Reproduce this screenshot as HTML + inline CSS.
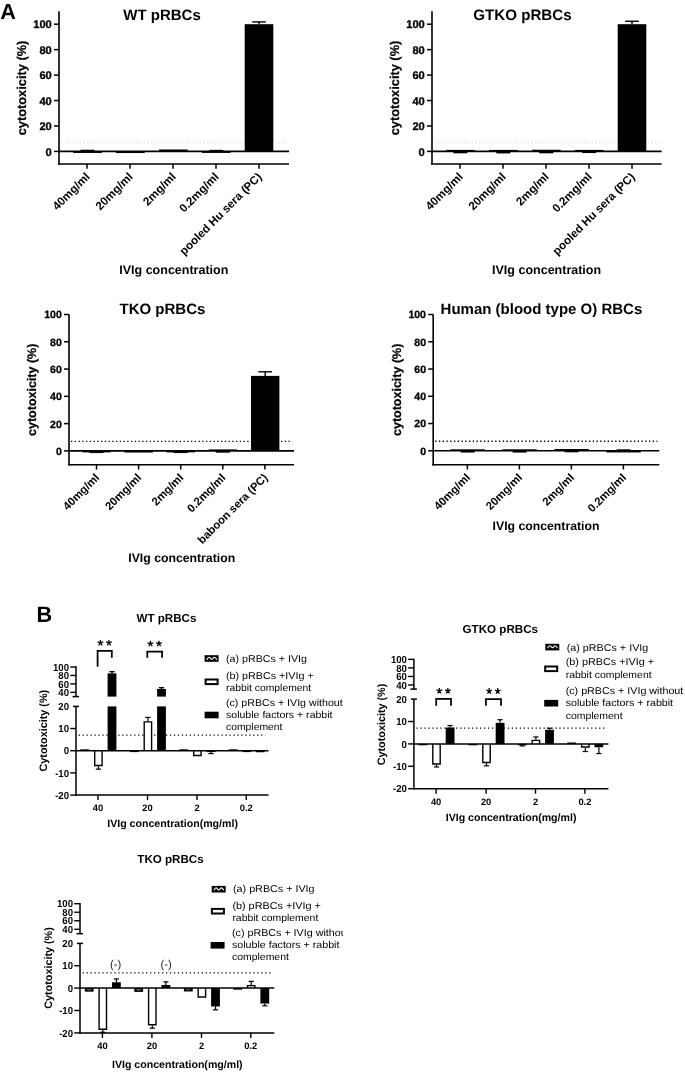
<!DOCTYPE html>
<html><head><meta charset="utf-8"><title>Figure</title>
<style>
html,body{margin:0;padding:0;background:#fff;}
svg{display:block;font-family:"Liberation Sans", sans-serif;opacity:0.999;will-change:transform;}
text{font-family:"Liberation Sans", sans-serif;text-rendering:geometricPrecision;}
</style></head><body>
<svg width="685" height="1072" viewBox="0 0 685 1072">
<rect x="0" y="0" width="685" height="1072" fill="#fff"/>
<defs><clipPath id="clipL"><rect x="0" y="830" width="343" height="242"/></clipPath></defs>

<text transform="translate(0.3 18.8) scale(1 1)" x="0" y="0" font-size="21.7" font-weight="bold" fill="#000">A</text>
<text transform="translate(36.4 621.9) scale(0.97 1)" x="0" y="0" font-size="22.3" font-weight="bold" fill="#000">B</text>
<line x1="61.00" y1="142.50" x2="287.00" y2="142.50" stroke="#dddddd" stroke-width="1.3" stroke-dasharray="1.3 2.45"/>
<rect x="73.20" y="151.40" width="28.60" height="1.53" fill="#000"/>
<rect x="80.50" y="149.75" width="14.00" height="1.65" fill="#000"/>
<rect x="116.00" y="151.40" width="28.60" height="1.65" fill="#000"/>
<rect x="159.00" y="149.49" width="28.60" height="1.91" fill="#000"/>
<rect x="202.00" y="151.40" width="28.60" height="1.50" fill="#000"/>
<rect x="209.30" y="149.87" width="14.00" height="1.53" fill="#000"/>
<rect x="244.70" y="24.20" width="28.60" height="127.20" fill="#000"/>
<line x1="259.00" y1="24.20" x2="259.00" y2="21.91" stroke="#000" stroke-width="1.4" />
<line x1="252.20" y1="21.91" x2="265.80" y2="21.91" stroke="#000" stroke-width="1.4" />
<line x1="59.00" y1="151.40" x2="289.00" y2="151.40" stroke="#000" stroke-width="1.6" />
<line x1="59.00" y1="11.20" x2="59.00" y2="164.80" stroke="#000" stroke-width="1.6" />
<line x1="58.20" y1="164.00" x2="289.00" y2="164.00" stroke="#000" stroke-width="1.6" />
<line x1="54.00" y1="151.40" x2="59.00" y2="151.40" stroke="#000" stroke-width="1.5" />
<text x="51.80" y="155.50" font-size="11.15" font-weight="bold" text-anchor="end" fill="#000" stroke="#000" stroke-width="0.3">0</text>
<line x1="54.00" y1="125.96" x2="59.00" y2="125.96" stroke="#000" stroke-width="1.5" />
<text x="51.80" y="130.06" font-size="11.15" font-weight="bold" text-anchor="end" fill="#000" stroke="#000" stroke-width="0.3">20</text>
<line x1="54.00" y1="100.52" x2="59.00" y2="100.52" stroke="#000" stroke-width="1.5" />
<text x="51.80" y="104.62" font-size="11.15" font-weight="bold" text-anchor="end" fill="#000" stroke="#000" stroke-width="0.3">40</text>
<line x1="54.00" y1="75.08" x2="59.00" y2="75.08" stroke="#000" stroke-width="1.5" />
<text x="51.80" y="79.18" font-size="11.15" font-weight="bold" text-anchor="end" fill="#000" stroke="#000" stroke-width="0.3">60</text>
<line x1="54.00" y1="49.64" x2="59.00" y2="49.64" stroke="#000" stroke-width="1.5" />
<text x="51.80" y="53.74" font-size="11.15" font-weight="bold" text-anchor="end" fill="#000" stroke="#000" stroke-width="0.3">80</text>
<line x1="54.00" y1="24.20" x2="59.00" y2="24.20" stroke="#000" stroke-width="1.5" />
<text x="51.80" y="28.30" font-size="11.15" font-weight="bold" text-anchor="end" fill="#000" stroke="#000" stroke-width="0.3">100</text>
<line x1="87.00" y1="164.00" x2="87.00" y2="168.80" stroke="#000" stroke-width="1.5" />
<text x="90.50" y="177.50" font-size="11.6" font-weight="bold" text-anchor="end" fill="#000" transform="rotate(-45 90.50 177.50)" >40mg/ml</text>
<line x1="130.00" y1="164.00" x2="130.00" y2="168.80" stroke="#000" stroke-width="1.5" />
<text x="133.50" y="177.50" font-size="11.6" font-weight="bold" text-anchor="end" fill="#000" transform="rotate(-45 133.50 177.50)" >20mg/ml</text>
<line x1="173.00" y1="164.00" x2="173.00" y2="168.80" stroke="#000" stroke-width="1.5" />
<text x="176.50" y="177.50" font-size="11.6" font-weight="bold" text-anchor="end" fill="#000" transform="rotate(-45 176.50 177.50)" >2mg/ml</text>
<line x1="216.00" y1="164.00" x2="216.00" y2="168.80" stroke="#000" stroke-width="1.5" />
<text x="219.50" y="177.50" font-size="11.6" font-weight="bold" text-anchor="end" fill="#000" transform="rotate(-45 219.50 177.50)" >0.2mg/ml</text>
<line x1="259.00" y1="164.00" x2="259.00" y2="168.80" stroke="#000" stroke-width="1.5" />
<text x="262.50" y="177.50" font-size="11.6" font-weight="bold" text-anchor="end" fill="#000" transform="rotate(-45 262.50 177.50)" >pooled Hu sera (PC)</text>
<text x="123.30" y="20.00" font-size="15.0" font-weight="bold" text-anchor="start" fill="#000" >WT pRBCs</text>
<text x="26.00" y="88.00" font-size="12.8" font-weight="bold" text-anchor="middle" fill="#000" transform="rotate(-90 26.00 88.00)" stroke="#000" stroke-width="0.2">cytotoxicity (%)</text>
<text x="173.80" y="274.30" font-size="12.5" font-weight="bold" text-anchor="middle" fill="#000" >IVIg concentration</text>
<line x1="434.00" y1="142.50" x2="659.60" y2="142.50" stroke="#dddddd" stroke-width="1.3" stroke-dasharray="1.3 2.45"/>
<rect x="446.10" y="149.90" width="28.60" height="1.50" fill="#000"/>
<rect x="453.40" y="151.40" width="14.00" height="1.91" fill="#000"/>
<rect x="489.00" y="149.90" width="28.60" height="1.50" fill="#000"/>
<rect x="496.30" y="151.40" width="14.00" height="2.04" fill="#000"/>
<rect x="532.00" y="149.75" width="28.60" height="1.65" fill="#000"/>
<rect x="539.30" y="151.40" width="14.00" height="1.91" fill="#000"/>
<rect x="574.90" y="149.90" width="28.60" height="1.50" fill="#000"/>
<rect x="582.20" y="151.40" width="14.00" height="1.65" fill="#000"/>
<rect x="617.70" y="24.20" width="28.60" height="127.20" fill="#000"/>
<line x1="632.00" y1="24.20" x2="632.00" y2="21.27" stroke="#000" stroke-width="1.4" />
<line x1="625.20" y1="21.27" x2="638.80" y2="21.27" stroke="#000" stroke-width="1.4" />
<line x1="432.00" y1="151.40" x2="661.60" y2="151.40" stroke="#000" stroke-width="1.6" />
<line x1="432.00" y1="11.20" x2="432.00" y2="164.80" stroke="#000" stroke-width="1.6" />
<line x1="431.20" y1="164.00" x2="661.60" y2="164.00" stroke="#000" stroke-width="1.6" />
<line x1="427.00" y1="151.40" x2="432.00" y2="151.40" stroke="#000" stroke-width="1.5" />
<text x="424.80" y="155.50" font-size="11.15" font-weight="bold" text-anchor="end" fill="#000" stroke="#000" stroke-width="0.3">0</text>
<line x1="427.00" y1="125.96" x2="432.00" y2="125.96" stroke="#000" stroke-width="1.5" />
<text x="424.80" y="130.06" font-size="11.15" font-weight="bold" text-anchor="end" fill="#000" stroke="#000" stroke-width="0.3">20</text>
<line x1="427.00" y1="100.52" x2="432.00" y2="100.52" stroke="#000" stroke-width="1.5" />
<text x="424.80" y="104.62" font-size="11.15" font-weight="bold" text-anchor="end" fill="#000" stroke="#000" stroke-width="0.3">40</text>
<line x1="427.00" y1="75.08" x2="432.00" y2="75.08" stroke="#000" stroke-width="1.5" />
<text x="424.80" y="79.18" font-size="11.15" font-weight="bold" text-anchor="end" fill="#000" stroke="#000" stroke-width="0.3">60</text>
<line x1="427.00" y1="49.64" x2="432.00" y2="49.64" stroke="#000" stroke-width="1.5" />
<text x="424.80" y="53.74" font-size="11.15" font-weight="bold" text-anchor="end" fill="#000" stroke="#000" stroke-width="0.3">80</text>
<line x1="427.00" y1="24.20" x2="432.00" y2="24.20" stroke="#000" stroke-width="1.5" />
<text x="424.80" y="28.30" font-size="11.15" font-weight="bold" text-anchor="end" fill="#000" stroke="#000" stroke-width="0.3">100</text>
<line x1="460.00" y1="164.00" x2="460.00" y2="168.80" stroke="#000" stroke-width="1.5" />
<text x="463.50" y="177.50" font-size="11.6" font-weight="bold" text-anchor="end" fill="#000" transform="rotate(-45 463.50 177.50)" >40mg/ml</text>
<line x1="503.00" y1="164.00" x2="503.00" y2="168.80" stroke="#000" stroke-width="1.5" />
<text x="506.50" y="177.50" font-size="11.6" font-weight="bold" text-anchor="end" fill="#000" transform="rotate(-45 506.50 177.50)" >20mg/ml</text>
<line x1="546.00" y1="164.00" x2="546.00" y2="168.80" stroke="#000" stroke-width="1.5" />
<text x="549.50" y="177.50" font-size="11.6" font-weight="bold" text-anchor="end" fill="#000" transform="rotate(-45 549.50 177.50)" >2mg/ml</text>
<line x1="589.00" y1="164.00" x2="589.00" y2="168.80" stroke="#000" stroke-width="1.5" />
<text x="592.50" y="177.50" font-size="11.6" font-weight="bold" text-anchor="end" fill="#000" transform="rotate(-45 592.50 177.50)" >0.2mg/ml</text>
<line x1="632.00" y1="164.00" x2="632.00" y2="168.80" stroke="#000" stroke-width="1.5" />
<text x="635.50" y="177.50" font-size="11.6" font-weight="bold" text-anchor="end" fill="#000" transform="rotate(-45 635.50 177.50)" >pooled Hu sera (PC)</text>
<text x="473.20" y="20.00" font-size="15.15" font-weight="bold" text-anchor="start" fill="#000" >GTKO pRBCs</text>
<text x="399.00" y="88.00" font-size="12.8" font-weight="bold" text-anchor="middle" fill="#000" transform="rotate(-90 399.00 88.00)" stroke="#000" stroke-width="0.2">cytotoxicity (%)</text>
<text x="546.60" y="274.30" font-size="12.5" font-weight="bold" text-anchor="middle" fill="#000" >IVIg concentration</text>
<line x1="71.00" y1="441.35" x2="292.00" y2="441.35" stroke="#000" stroke-width="1.3" stroke-dasharray="1.3 2.45"/>
<rect x="82.30" y="450.90" width="28.40" height="1.50" fill="#000"/>
<rect x="89.50" y="450.90" width="14.00" height="2.18" fill="#000"/>
<rect x="124.40" y="450.90" width="28.40" height="1.64" fill="#000"/>
<rect x="166.50" y="450.90" width="28.40" height="1.50" fill="#000"/>
<rect x="173.70" y="450.90" width="14.00" height="2.18" fill="#000"/>
<rect x="208.60" y="449.40" width="28.40" height="1.50" fill="#000"/>
<rect x="215.80" y="450.90" width="14.00" height="1.77" fill="#000"/>
<rect x="251.00" y="375.88" width="28.40" height="75.02" fill="#000"/>
<line x1="265.20" y1="375.88" x2="265.20" y2="371.79" stroke="#000" stroke-width="1.4" />
<line x1="258.40" y1="371.79" x2="272.00" y2="371.79" stroke="#000" stroke-width="1.4" />
<line x1="69.00" y1="450.90" x2="294.00" y2="450.90" stroke="#000" stroke-width="1.6" />
<line x1="69.00" y1="314.50" x2="69.00" y2="465.60" stroke="#000" stroke-width="1.6" />
<line x1="68.20" y1="464.80" x2="294.00" y2="464.80" stroke="#000" stroke-width="1.6" />
<line x1="64.00" y1="450.90" x2="69.00" y2="450.90" stroke="#000" stroke-width="1.5" />
<text x="61.80" y="454.79" font-size="10.55" font-weight="bold" text-anchor="end" fill="#000" stroke="#000" stroke-width="0.3">0</text>
<line x1="64.00" y1="423.62" x2="69.00" y2="423.62" stroke="#000" stroke-width="1.5" />
<text x="61.80" y="427.51" font-size="10.55" font-weight="bold" text-anchor="end" fill="#000" stroke="#000" stroke-width="0.3">20</text>
<line x1="64.00" y1="396.34" x2="69.00" y2="396.34" stroke="#000" stroke-width="1.5" />
<text x="61.80" y="400.23" font-size="10.55" font-weight="bold" text-anchor="end" fill="#000" stroke="#000" stroke-width="0.3">40</text>
<line x1="64.00" y1="369.06" x2="69.00" y2="369.06" stroke="#000" stroke-width="1.5" />
<text x="61.80" y="372.95" font-size="10.55" font-weight="bold" text-anchor="end" fill="#000" stroke="#000" stroke-width="0.3">60</text>
<line x1="64.00" y1="341.78" x2="69.00" y2="341.78" stroke="#000" stroke-width="1.5" />
<text x="61.80" y="345.67" font-size="10.55" font-weight="bold" text-anchor="end" fill="#000" stroke="#000" stroke-width="0.3">80</text>
<line x1="64.00" y1="314.50" x2="69.00" y2="314.50" stroke="#000" stroke-width="1.5" />
<text x="61.80" y="318.39" font-size="10.55" font-weight="bold" text-anchor="end" fill="#000" stroke="#000" stroke-width="0.3">100</text>
<line x1="96.50" y1="464.80" x2="96.50" y2="469.60" stroke="#000" stroke-width="1.5" />
<text x="100.00" y="478.30" font-size="11.3" font-weight="bold" text-anchor="end" fill="#000" transform="rotate(-45 100.00 478.30)" >40mg/ml</text>
<line x1="138.60" y1="464.80" x2="138.60" y2="469.60" stroke="#000" stroke-width="1.5" />
<text x="142.10" y="478.30" font-size="11.3" font-weight="bold" text-anchor="end" fill="#000" transform="rotate(-45 142.10 478.30)" >20mg/ml</text>
<line x1="180.70" y1="464.80" x2="180.70" y2="469.60" stroke="#000" stroke-width="1.5" />
<text x="184.20" y="478.30" font-size="11.3" font-weight="bold" text-anchor="end" fill="#000" transform="rotate(-45 184.20 478.30)" >2mg/ml</text>
<line x1="222.80" y1="464.80" x2="222.80" y2="469.60" stroke="#000" stroke-width="1.5" />
<text x="226.30" y="478.30" font-size="11.3" font-weight="bold" text-anchor="end" fill="#000" transform="rotate(-45 226.30 478.30)" >0.2mg/ml</text>
<line x1="264.90" y1="464.80" x2="264.90" y2="469.60" stroke="#000" stroke-width="1.5" />
<text x="268.40" y="478.30" font-size="11.3" font-weight="bold" text-anchor="end" fill="#000" transform="rotate(-45 268.40 478.30)" >baboon sera (PC)</text>
<text x="119.50" y="313.70" font-size="15.0" font-weight="bold" text-anchor="start" fill="#000" >TKO pRBCs</text>
<text x="36.00" y="389.80" font-size="12.5" font-weight="bold" text-anchor="middle" fill="#000" transform="rotate(-90 36.00 389.80)" stroke="#000" stroke-width="0.2">cytotoxicity (%)</text>
<text x="181.70" y="561.80" font-size="12.25" font-weight="bold" text-anchor="middle" fill="#000" >IVIg concentration</text>
<line x1="435.20" y1="441.26" x2="657.30" y2="441.26" stroke="#000" stroke-width="1.3" stroke-dasharray="1.3 2.45"/>
<rect x="450.40" y="449.30" width="34.40" height="1.50" fill="#000"/>
<rect x="460.60" y="450.80" width="14.00" height="1.77" fill="#000"/>
<rect x="502.40" y="449.30" width="34.40" height="1.50" fill="#000"/>
<rect x="512.60" y="450.80" width="14.00" height="1.77" fill="#000"/>
<rect x="554.40" y="449.03" width="34.40" height="1.77" fill="#000"/>
<rect x="564.60" y="450.80" width="14.00" height="1.50" fill="#000"/>
<rect x="606.40" y="450.80" width="34.40" height="1.64" fill="#000"/>
<rect x="616.60" y="449.30" width="14.00" height="1.50" fill="#000"/>
<line x1="433.20" y1="450.80" x2="659.30" y2="450.80" stroke="#000" stroke-width="1.6" />
<line x1="433.20" y1="314.50" x2="433.20" y2="465.50" stroke="#000" stroke-width="1.6" />
<line x1="432.40" y1="464.70" x2="659.30" y2="464.70" stroke="#000" stroke-width="1.6" />
<line x1="428.20" y1="450.80" x2="433.20" y2="450.80" stroke="#000" stroke-width="1.5" />
<text x="426.00" y="454.69" font-size="10.55" font-weight="bold" text-anchor="end" fill="#000" stroke="#000" stroke-width="0.3">0</text>
<line x1="428.20" y1="423.54" x2="433.20" y2="423.54" stroke="#000" stroke-width="1.5" />
<text x="426.00" y="427.43" font-size="10.55" font-weight="bold" text-anchor="end" fill="#000" stroke="#000" stroke-width="0.3">20</text>
<line x1="428.20" y1="396.28" x2="433.20" y2="396.28" stroke="#000" stroke-width="1.5" />
<text x="426.00" y="400.17" font-size="10.55" font-weight="bold" text-anchor="end" fill="#000" stroke="#000" stroke-width="0.3">40</text>
<line x1="428.20" y1="369.02" x2="433.20" y2="369.02" stroke="#000" stroke-width="1.5" />
<text x="426.00" y="372.91" font-size="10.55" font-weight="bold" text-anchor="end" fill="#000" stroke="#000" stroke-width="0.3">60</text>
<line x1="428.20" y1="341.76" x2="433.20" y2="341.76" stroke="#000" stroke-width="1.5" />
<text x="426.00" y="345.65" font-size="10.55" font-weight="bold" text-anchor="end" fill="#000" stroke="#000" stroke-width="0.3">80</text>
<line x1="428.20" y1="314.50" x2="433.20" y2="314.50" stroke="#000" stroke-width="1.5" />
<text x="426.00" y="318.39" font-size="10.55" font-weight="bold" text-anchor="end" fill="#000" stroke="#000" stroke-width="0.3">100</text>
<line x1="467.40" y1="464.70" x2="467.40" y2="469.50" stroke="#000" stroke-width="1.5" />
<text x="470.90" y="478.20" font-size="11.3" font-weight="bold" text-anchor="end" fill="#000" transform="rotate(-45 470.90 478.20)" >40mg/ml</text>
<line x1="519.40" y1="464.70" x2="519.40" y2="469.50" stroke="#000" stroke-width="1.5" />
<text x="522.90" y="478.20" font-size="11.3" font-weight="bold" text-anchor="end" fill="#000" transform="rotate(-45 522.90 478.20)" >20mg/ml</text>
<line x1="571.40" y1="464.70" x2="571.40" y2="469.50" stroke="#000" stroke-width="1.5" />
<text x="574.90" y="478.20" font-size="11.3" font-weight="bold" text-anchor="end" fill="#000" transform="rotate(-45 574.90 478.20)" >2mg/ml</text>
<line x1="623.40" y1="464.70" x2="623.40" y2="469.50" stroke="#000" stroke-width="1.5" />
<text x="626.90" y="478.20" font-size="11.3" font-weight="bold" text-anchor="end" fill="#000" transform="rotate(-45 626.90 478.20)" >0.2mg/ml</text>
<text x="440.60" y="313.70" font-size="15.0" font-weight="bold" text-anchor="start" fill="#000" >Human (blood type O) RBCs</text>
<text x="401.00" y="389.80" font-size="12.5" font-weight="bold" text-anchor="middle" fill="#000" transform="rotate(-90 401.00 389.80)" stroke="#000" stroke-width="0.2">cytotoxicity (%)</text>
<text x="546.00" y="530.30" font-size="12.25" font-weight="bold" text-anchor="middle" fill="#000" >IVIg concentration</text>
<line x1="78.60" y1="735.16" x2="265.50" y2="735.16" stroke="#000" stroke-width="1.25" stroke-dasharray="1.25 2.72"/>
<rect x="80.40" y="749.30" width="8.80" height="1.40" fill="#000"/>
<path d="M94.70 750.70 V765.54 H102.10 V750.70" fill="#fff" stroke="#000" stroke-width="1.4"/>
<line x1="98.40" y1="766.24" x2="98.40" y2="769.13" stroke="#000" stroke-width="1.2" />
<line x1="95.80" y1="769.13" x2="101.00" y2="769.13" stroke="#000" stroke-width="1.2" />
<rect x="107.60" y="706.40" width="8.80" height="44.30" fill="#000"/>
<rect x="107.60" y="673.34" width="8.80" height="23.26" fill="#000"/>
<line x1="112.00" y1="673.34" x2="112.00" y2="671.65" stroke="#000" stroke-width="1.3" />
<line x1="109.40" y1="671.65" x2="114.60" y2="671.65" stroke="#000" stroke-width="1.3" />
<rect x="129.90" y="750.70" width="8.80" height="1.40" fill="#000"/>
<path d="M144.20 750.70 V721.87 H151.60 V750.70" fill="#fff" stroke="#000" stroke-width="1.4"/>
<line x1="147.90" y1="721.17" x2="147.90" y2="717.40" stroke="#000" stroke-width="1.2" />
<line x1="145.30" y1="717.40" x2="150.50" y2="717.40" stroke="#000" stroke-width="1.2" />
<rect x="157.10" y="706.40" width="8.80" height="44.30" fill="#000"/>
<rect x="157.10" y="688.97" width="8.80" height="7.63" fill="#000"/>
<line x1="161.50" y1="688.97" x2="161.50" y2="687.70" stroke="#000" stroke-width="1.3" />
<line x1="158.90" y1="687.70" x2="164.10" y2="687.70" stroke="#000" stroke-width="1.3" />
<rect x="179.40" y="749.30" width="8.80" height="1.40" fill="#000"/>
<path d="M193.70 750.70 V755.55 H201.10 V750.70" fill="#fff" stroke="#000" stroke-width="1.4"/>
<rect x="206.60" y="750.70" width="8.80" height="1.40" fill="#000"/>
<line x1="211.00" y1="751.37" x2="211.00" y2="753.59" stroke="#000" stroke-width="1.2" />
<line x1="208.40" y1="753.59" x2="213.60" y2="753.59" stroke="#000" stroke-width="1.2" />
<rect x="228.70" y="749.30" width="8.80" height="1.40" fill="#000"/>
<rect x="242.30" y="750.70" width="8.80" height="1.40" fill="#000"/>
<rect x="255.90" y="750.70" width="8.80" height="1.55" fill="#000"/>
<line x1="76.00" y1="750.70" x2="268.50" y2="750.70" stroke="#000" stroke-width="1.5" />
<line x1="76.00" y1="666.30" x2="76.00" y2="696.60" stroke="#000" stroke-width="1.5" />
<line x1="72.50" y1="696.60" x2="79.00" y2="696.60" stroke="#000" stroke-width="1.5" />
<line x1="76.00" y1="706.40" x2="76.00" y2="795.75" stroke="#000" stroke-width="1.5" />
<line x1="73.00" y1="706.40" x2="79.00" y2="706.40" stroke="#000" stroke-width="1.5" />
<line x1="75.25" y1="795.00" x2="268.50" y2="795.00" stroke="#000" stroke-width="1.5" />
<line x1="70.20" y1="667.00" x2="76.00" y2="667.00" stroke="#000" stroke-width="1.4" />
<text transform="translate(69.00 670.62) scale(0.94 1)" x="0" y="0" font-size="10.2" font-weight="bold" text-anchor="end" fill="#000">100</text>
<line x1="70.20" y1="675.45" x2="76.00" y2="675.45" stroke="#000" stroke-width="1.4" />
<text transform="translate(69.00 679.07) scale(0.94 1)" x="0" y="0" font-size="10.2" font-weight="bold" text-anchor="end" fill="#000">80</text>
<line x1="70.20" y1="683.90" x2="76.00" y2="683.90" stroke="#000" stroke-width="1.4" />
<text transform="translate(69.00 687.52) scale(0.94 1)" x="0" y="0" font-size="10.2" font-weight="bold" text-anchor="end" fill="#000">60</text>
<line x1="70.20" y1="692.35" x2="76.00" y2="692.35" stroke="#000" stroke-width="1.4" />
<text transform="translate(69.00 695.97) scale(0.94 1)" x="0" y="0" font-size="10.2" font-weight="bold" text-anchor="end" fill="#000">40</text>
<text transform="translate(69.00 709.92) scale(0.94 1)" x="0" y="0" font-size="10.2" font-weight="bold" text-anchor="end" fill="#000">20</text>
<line x1="70.20" y1="728.50" x2="76.00" y2="728.50" stroke="#000" stroke-width="1.4" />
<text transform="translate(69.00 732.12) scale(0.94 1)" x="0" y="0" font-size="10.2" font-weight="bold" text-anchor="end" fill="#000">10</text>
<line x1="70.20" y1="750.70" x2="76.00" y2="750.70" stroke="#000" stroke-width="1.4" />
<text transform="translate(69.00 754.32) scale(0.94 1)" x="0" y="0" font-size="10.2" font-weight="bold" text-anchor="end" fill="#000">0</text>
<line x1="70.20" y1="772.90" x2="76.00" y2="772.90" stroke="#000" stroke-width="1.4" />
<text transform="translate(69.00 776.52) scale(0.94 1)" x="0" y="0" font-size="10.2" font-weight="bold" text-anchor="end" fill="#000">-10</text>
<line x1="70.20" y1="795.10" x2="76.00" y2="795.10" stroke="#000" stroke-width="1.4" />
<text transform="translate(69.00 798.72) scale(0.94 1)" x="0" y="0" font-size="10.2" font-weight="bold" text-anchor="end" fill="#000">-20</text>
<line x1="98.00" y1="795.00" x2="98.00" y2="800.00" stroke="#000" stroke-width="1.4" />
<text x="98.00" y="810.90" font-size="9.4" font-weight="bold" text-anchor="middle" fill="#000" >40</text>
<line x1="147.50" y1="795.00" x2="147.50" y2="800.00" stroke="#000" stroke-width="1.4" />
<text x="147.50" y="810.90" font-size="9.4" font-weight="bold" text-anchor="middle" fill="#000" >20</text>
<line x1="197.00" y1="795.00" x2="197.00" y2="800.00" stroke="#000" stroke-width="1.4" />
<text x="197.00" y="810.90" font-size="9.4" font-weight="bold" text-anchor="middle" fill="#000" >2</text>
<line x1="246.30" y1="795.00" x2="246.30" y2="800.00" stroke="#000" stroke-width="1.4" />
<text x="246.30" y="810.90" font-size="9.4" font-weight="bold" text-anchor="middle" fill="#000" >0.2</text>
<text x="136.50" y="621.80" font-size="11.6" font-weight="bold" text-anchor="start" fill="#000" >WT pRBCs</text>
<text x="47.00" y="730.70" font-size="10.8" font-weight="bold" text-anchor="middle" fill="#000" transform="rotate(-90 47.00 730.70)" >Cytotoxicity (%)</text>
<text x="172.60" y="826.80" font-size="10.6" font-weight="bold" text-anchor="middle" fill="#000" >IVIg concentration(mg/ml)</text>
<path d="M97.60 666.80 V650.80 H111.80 V657.80" fill="none" stroke="#000" stroke-width="1.75"/>
<path d="M100.45 642.90L100.45 639.90M100.45 642.90L103.30 641.97M100.45 642.90L102.21 645.33M100.45 642.90L98.69 645.33M100.45 642.90L97.60 641.97" fill="none" stroke="#000" stroke-width="1.3" stroke-linecap="butt"/>
<path d="M108.95 642.90L108.95 639.90M108.95 642.90L111.80 641.97M108.95 642.90L110.71 645.33M108.95 642.90L107.19 645.33M108.95 642.90L106.10 641.97" fill="none" stroke="#000" stroke-width="1.3" stroke-linecap="butt"/>
<path d="M147.30 657.80 V651.60 H162.10 V657.80" fill="none" stroke="#000" stroke-width="1.75"/>
<path d="M150.45 643.70L150.45 640.70M150.45 643.70L153.30 642.77M150.45 643.70L152.21 646.13M150.45 643.70L148.69 646.13M150.45 643.70L147.60 642.77" fill="none" stroke="#000" stroke-width="1.3" stroke-linecap="butt"/>
<path d="M158.95 643.70L158.95 640.70M158.95 643.70L161.80 642.77M158.95 643.70L160.71 646.13M158.95 643.70L157.19 646.13M158.95 643.70L156.10 642.77" fill="none" stroke="#000" stroke-width="1.3" stroke-linecap="butt"/>
<g>
<rect x="204.60" y="655.20" width="14.00" height="6.60" fill="#000"/>
<path transform="translate(204.60 655.20)" d="M2.3 4.5 C3 2.6 3.6 2 4.5 2 S6 4.0 7.1 4.0 S8.8 2 9.8 2 S11.4 2.8 12.1 4.5" fill="none" stroke="#fff" stroke-width="1.15"/>
<rect x="205.60" y="679.50" width="12.00" height="4.60" fill="#fff" stroke="#000" stroke-width="2.0"/>
<rect x="204.60" y="711.70" width="14.00" height="6.60" fill="#000"/>
<text x="226.00" y="661.50" font-size="9.9" font-weight="normal" text-anchor="start" fill="#000" textLength="80.95" lengthAdjust="spacingAndGlyphs" >(a) pRBCs + IVIg</text>
<text x="226.00" y="679.20" font-size="9.9" font-weight="normal" text-anchor="start" fill="#000" textLength="87.69" lengthAdjust="spacingAndGlyphs" >(b) pRBCs +IVIg +</text>
<text x="226.00" y="691.40" font-size="9.9" font-weight="normal" text-anchor="start" fill="#000" textLength="85.21" lengthAdjust="spacingAndGlyphs" >rabbit complement</text>
<text x="226.00" y="705.80" font-size="9.9" font-weight="normal" text-anchor="start" fill="#000" textLength="116.66" lengthAdjust="spacingAndGlyphs" >(c) pRBCs + IVIg without</text>
<text x="226.00" y="718.10" font-size="9.9" font-weight="normal" text-anchor="start" fill="#000" textLength="106.54" lengthAdjust="spacingAndGlyphs" >soluble factors + rabbit</text>
<text x="226.00" y="729.80" font-size="9.9" font-weight="normal" text-anchor="start" fill="#000" textLength="56.44" lengthAdjust="spacingAndGlyphs" >complement</text>
</g>
<line x1="416.50" y1="728.22" x2="605.00" y2="728.22" stroke="#000" stroke-width="1.25" stroke-dasharray="1.25 2.72"/>
<rect x="418.50" y="743.90" width="8.80" height="1.40" fill="#000"/>
<path d="M432.80 743.90 V764.03 H440.20 V743.90" fill="#fff" stroke="#000" stroke-width="1.4"/>
<line x1="436.50" y1="764.73" x2="436.50" y2="766.97" stroke="#000" stroke-width="1.2" />
<line x1="433.90" y1="766.97" x2="439.10" y2="766.97" stroke="#000" stroke-width="1.2" />
<rect x="445.70" y="727.55" width="8.80" height="16.35" fill="#000"/>
<line x1="450.10" y1="727.55" x2="450.10" y2="725.53" stroke="#000" stroke-width="1.2" />
<line x1="447.50" y1="725.53" x2="452.70" y2="725.53" stroke="#000" stroke-width="1.2" />
<rect x="468.50" y="743.90" width="8.80" height="1.40" fill="#000"/>
<path d="M482.80 743.90 V762.46 H490.20 V743.90" fill="#fff" stroke="#000" stroke-width="1.4"/>
<line x1="486.50" y1="763.16" x2="486.50" y2="765.85" stroke="#000" stroke-width="1.2" />
<line x1="483.90" y1="765.85" x2="489.10" y2="765.85" stroke="#000" stroke-width="1.2" />
<rect x="495.70" y="722.84" width="8.80" height="21.06" fill="#000"/>
<line x1="500.10" y1="722.84" x2="500.10" y2="719.71" stroke="#000" stroke-width="1.2" />
<line x1="497.50" y1="719.71" x2="502.70" y2="719.71" stroke="#000" stroke-width="1.2" />
<rect x="517.90" y="743.90" width="8.80" height="1.40" fill="#000"/>
<line x1="522.30" y1="744.80" x2="522.30" y2="745.92" stroke="#000" stroke-width="1.2" />
<line x1="519.70" y1="745.92" x2="524.90" y2="745.92" stroke="#000" stroke-width="1.2" />
<path d="M532.20 743.90 V740.34 H539.60 V743.90" fill="#fff" stroke="#000" stroke-width="1.4"/>
<line x1="535.90" y1="739.64" x2="535.90" y2="736.96" stroke="#000" stroke-width="1.2" />
<line x1="533.30" y1="736.96" x2="538.50" y2="736.96" stroke="#000" stroke-width="1.2" />
<rect x="545.10" y="729.79" width="8.80" height="14.11" fill="#000"/>
<line x1="549.50" y1="729.79" x2="549.50" y2="728.22" stroke="#000" stroke-width="1.2" />
<line x1="546.90" y1="728.22" x2="552.10" y2="728.22" stroke="#000" stroke-width="1.2" />
<rect x="567.30" y="742.50" width="8.80" height="1.40" fill="#000"/>
<path d="M581.60 743.90 V747.01 H589.00 V743.90" fill="#fff" stroke="#000" stroke-width="1.4"/>
<line x1="585.30" y1="747.71" x2="585.30" y2="751.52" stroke="#000" stroke-width="1.2" />
<line x1="582.70" y1="751.52" x2="587.90" y2="751.52" stroke="#000" stroke-width="1.2" />
<rect x="594.50" y="743.90" width="8.80" height="3.36" fill="#000"/>
<line x1="598.90" y1="747.26" x2="598.90" y2="753.53" stroke="#000" stroke-width="1.2" />
<line x1="596.30" y1="753.53" x2="601.50" y2="753.53" stroke="#000" stroke-width="1.2" />
<line x1="413.90" y1="743.90" x2="608.40" y2="743.90" stroke="#000" stroke-width="1.5" />
<line x1="413.90" y1="658.65" x2="413.90" y2="689.10" stroke="#000" stroke-width="1.5" />
<line x1="410.40" y1="689.10" x2="416.90" y2="689.10" stroke="#000" stroke-width="1.5" />
<line x1="413.90" y1="699.10" x2="413.90" y2="789.45" stroke="#000" stroke-width="1.5" />
<line x1="410.90" y1="699.10" x2="416.90" y2="699.10" stroke="#000" stroke-width="1.5" />
<line x1="413.15" y1="788.70" x2="608.40" y2="788.70" stroke="#000" stroke-width="1.5" />
<line x1="408.10" y1="659.35" x2="413.90" y2="659.35" stroke="#000" stroke-width="1.4" />
<text transform="translate(406.90 662.97) scale(0.94 1)" x="0" y="0" font-size="10.2" font-weight="bold" text-anchor="end" fill="#000">100</text>
<line x1="408.10" y1="667.90" x2="413.90" y2="667.90" stroke="#000" stroke-width="1.4" />
<text transform="translate(406.90 671.52) scale(0.94 1)" x="0" y="0" font-size="10.2" font-weight="bold" text-anchor="end" fill="#000">80</text>
<line x1="408.10" y1="676.45" x2="413.90" y2="676.45" stroke="#000" stroke-width="1.4" />
<text transform="translate(406.90 680.07) scale(0.94 1)" x="0" y="0" font-size="10.2" font-weight="bold" text-anchor="end" fill="#000">60</text>
<line x1="408.10" y1="685.00" x2="413.90" y2="685.00" stroke="#000" stroke-width="1.4" />
<text transform="translate(406.90 688.62) scale(0.94 1)" x="0" y="0" font-size="10.2" font-weight="bold" text-anchor="end" fill="#000">40</text>
<text transform="translate(406.90 702.72) scale(0.94 1)" x="0" y="0" font-size="10.2" font-weight="bold" text-anchor="end" fill="#000">20</text>
<line x1="408.10" y1="721.50" x2="413.90" y2="721.50" stroke="#000" stroke-width="1.4" />
<text transform="translate(406.90 725.12) scale(0.94 1)" x="0" y="0" font-size="10.2" font-weight="bold" text-anchor="end" fill="#000">10</text>
<line x1="408.10" y1="743.90" x2="413.90" y2="743.90" stroke="#000" stroke-width="1.4" />
<text transform="translate(406.90 747.52) scale(0.94 1)" x="0" y="0" font-size="10.2" font-weight="bold" text-anchor="end" fill="#000">0</text>
<line x1="408.10" y1="766.30" x2="413.90" y2="766.30" stroke="#000" stroke-width="1.4" />
<text transform="translate(406.90 769.92) scale(0.94 1)" x="0" y="0" font-size="10.2" font-weight="bold" text-anchor="end" fill="#000">-10</text>
<line x1="408.10" y1="788.70" x2="413.90" y2="788.70" stroke="#000" stroke-width="1.4" />
<text transform="translate(406.90 792.32) scale(0.94 1)" x="0" y="0" font-size="10.2" font-weight="bold" text-anchor="end" fill="#000">-20</text>
<line x1="436.10" y1="788.70" x2="436.10" y2="793.70" stroke="#000" stroke-width="1.4" />
<text x="436.10" y="804.50" font-size="9.4" font-weight="bold" text-anchor="middle" fill="#000" >40</text>
<line x1="486.10" y1="788.70" x2="486.10" y2="793.70" stroke="#000" stroke-width="1.4" />
<text x="486.10" y="804.50" font-size="9.4" font-weight="bold" text-anchor="middle" fill="#000" >20</text>
<line x1="535.50" y1="788.70" x2="535.50" y2="793.70" stroke="#000" stroke-width="1.4" />
<text x="535.50" y="804.50" font-size="9.4" font-weight="bold" text-anchor="middle" fill="#000" >2</text>
<line x1="584.90" y1="788.70" x2="584.90" y2="793.70" stroke="#000" stroke-width="1.4" />
<text x="584.90" y="804.50" font-size="9.4" font-weight="bold" text-anchor="middle" fill="#000" >0.2</text>
<text x="462.60" y="632.50" font-size="11.6" font-weight="bold" text-anchor="start" fill="#000" >GTKO pRBCs</text>
<text x="385.00" y="724.50" font-size="10.8" font-weight="bold" text-anchor="middle" fill="#000" transform="rotate(-90 385.00 724.50)" >Cytotoxicity (%)</text>
<text x="511.10" y="821.20" font-size="10.6" font-weight="bold" text-anchor="middle" fill="#000" >IVIg concentration(mg/ml)</text>
<path d="M436.20 705.80 V698.80 H451.00 V705.80" fill="none" stroke="#000" stroke-width="1.75"/>
<path d="M439.35 690.90L439.35 687.90M439.35 690.90L442.20 689.97M439.35 690.90L441.11 693.33M439.35 690.90L437.59 693.33M439.35 690.90L436.50 689.97" fill="none" stroke="#000" stroke-width="1.3" stroke-linecap="butt"/>
<path d="M447.85 690.90L447.85 687.90M447.85 690.90L450.70 689.97M447.85 690.90L449.61 693.33M447.85 690.90L446.09 693.33M447.85 690.90L445.00 689.97" fill="none" stroke="#000" stroke-width="1.3" stroke-linecap="butt"/>
<path d="M485.90 705.80 V699.00 H501.00 V705.80" fill="none" stroke="#000" stroke-width="1.75"/>
<path d="M489.20 691.10L489.20 688.10M489.20 691.10L492.05 690.17M489.20 691.10L490.96 693.53M489.20 691.10L487.44 693.53M489.20 691.10L486.35 690.17" fill="none" stroke="#000" stroke-width="1.3" stroke-linecap="butt"/>
<path d="M497.70 691.10L497.70 688.10M497.70 691.10L500.55 690.17M497.70 691.10L499.46 693.53M497.70 691.10L495.94 693.53M497.70 691.10L494.85 690.17" fill="none" stroke="#000" stroke-width="1.3" stroke-linecap="butt"/>
<g>
<rect x="545.30" y="643.80" width="14.00" height="6.60" fill="#000"/>
<path transform="translate(545.30 643.80)" d="M2.3 4.5 C3 2.6 3.6 2 4.5 2 S6 4.0 7.1 4.0 S8.8 2 9.8 2 S11.4 2.8 12.1 4.5" fill="none" stroke="#fff" stroke-width="1.15"/>
<rect x="545.20" y="666.50" width="12.00" height="4.60" fill="#fff" stroke="#000" stroke-width="2.0"/>
<rect x="544.20" y="699.90" width="14.00" height="6.60" fill="#000"/>
<text x="566.70" y="650.60" font-size="9.9" font-weight="normal" text-anchor="start" fill="#000" textLength="81.60" lengthAdjust="spacingAndGlyphs" >(a) pRBCs + IVIg</text>
<text x="565.70" y="665.10" font-size="9.9" font-weight="normal" text-anchor="start" fill="#000" textLength="88.40" lengthAdjust="spacingAndGlyphs" >(b) pRBCs +IVIg +</text>
<text x="565.70" y="678.30" font-size="9.9" font-weight="normal" text-anchor="start" fill="#000" textLength="85.90" lengthAdjust="spacingAndGlyphs" >rabbit complement</text>
<text x="565.70" y="693.50" font-size="9.9" font-weight="normal" text-anchor="start" fill="#000" textLength="117.60" lengthAdjust="spacingAndGlyphs" >(c) pRBCs + IVIg without</text>
<text x="565.70" y="706.40" font-size="9.9" font-weight="normal" text-anchor="start" fill="#000" textLength="107.40" lengthAdjust="spacingAndGlyphs" >soluble factors + rabbit</text>
<text x="565.70" y="718.70" font-size="9.9" font-weight="normal" text-anchor="start" fill="#000" textLength="56.90" lengthAdjust="spacingAndGlyphs" >complement</text>
</g>
<line x1="82.60" y1="972.76" x2="271.00" y2="972.76" stroke="#000" stroke-width="1.25" stroke-dasharray="1.25 2.72"/>
<rect x="84.80" y="988.10" width="8.80" height="3.58" fill="#000"/>
<rect x="86.80" y="988.40" width="4.80" height="2.08" rx="1.2" fill="#555"/>
<path d="M99.10 988.10 V1029.29 H106.50 V988.10" fill="#fff" stroke="#000" stroke-width="1.4"/>
<line x1="102.80" y1="1029.99" x2="102.80" y2="1032.23" stroke="#000" stroke-width="1.2" />
<line x1="100.20" y1="1032.23" x2="105.40" y2="1032.23" stroke="#000" stroke-width="1.2" />
<rect x="112.00" y="982.28" width="8.80" height="5.82" fill="#000"/>
<line x1="116.40" y1="982.28" x2="116.40" y2="978.92" stroke="#000" stroke-width="1.2" />
<line x1="113.80" y1="978.92" x2="119.00" y2="978.92" stroke="#000" stroke-width="1.2" />
<rect x="134.30" y="988.10" width="8.80" height="3.81" fill="#000"/>
<rect x="136.30" y="988.40" width="4.80" height="2.31" rx="1.2" fill="#555"/>
<path d="M148.60 988.10 V1024.81 H156.00 V988.10" fill="#fff" stroke="#000" stroke-width="1.4"/>
<line x1="152.30" y1="1025.51" x2="152.30" y2="1028.20" stroke="#000" stroke-width="1.2" />
<line x1="149.70" y1="1028.20" x2="154.90" y2="1028.20" stroke="#000" stroke-width="1.2" />
<rect x="161.50" y="984.96" width="8.80" height="3.14" fill="#000"/>
<line x1="165.90" y1="984.96" x2="165.90" y2="981.83" stroke="#000" stroke-width="1.2" />
<line x1="163.30" y1="981.83" x2="168.50" y2="981.83" stroke="#000" stroke-width="1.2" />
<rect x="183.90" y="988.10" width="8.80" height="3.36" fill="#000"/>
<rect x="185.90" y="988.40" width="4.80" height="1.86" rx="1.2" fill="#555"/>
<path d="M198.20 988.10 V997.03 H205.60 V988.10" fill="#fff" stroke="#000" stroke-width="1.4"/>
<rect x="211.10" y="988.10" width="8.80" height="18.37" fill="#000"/>
<line x1="215.50" y1="1006.47" x2="215.50" y2="1009.83" stroke="#000" stroke-width="1.2" />
<line x1="212.90" y1="1009.83" x2="218.10" y2="1009.83" stroke="#000" stroke-width="1.2" />
<rect x="233.20" y="988.10" width="8.80" height="1.57" fill="#000"/>
<path d="M247.50 988.10 V985.66 H254.90 V988.10" fill="#fff" stroke="#000" stroke-width="1.4"/>
<line x1="251.20" y1="984.96" x2="251.20" y2="981.38" stroke="#000" stroke-width="1.2" />
<line x1="248.60" y1="981.38" x2="253.80" y2="981.38" stroke="#000" stroke-width="1.2" />
<rect x="260.40" y="988.10" width="8.80" height="15.46" fill="#000"/>
<line x1="264.80" y1="1003.56" x2="264.80" y2="1005.80" stroke="#000" stroke-width="1.2" />
<line x1="262.20" y1="1005.80" x2="267.40" y2="1005.80" stroke="#000" stroke-width="1.2" />
<line x1="80.00" y1="988.10" x2="274.30" y2="988.10" stroke="#000" stroke-width="1.5" />
<line x1="80.00" y1="903.00" x2="80.00" y2="933.70" stroke="#000" stroke-width="1.5" />
<line x1="76.50" y1="933.70" x2="83.00" y2="933.70" stroke="#000" stroke-width="1.5" />
<line x1="80.00" y1="943.40" x2="80.00" y2="1033.65" stroke="#000" stroke-width="1.5" />
<line x1="77.00" y1="943.40" x2="83.00" y2="943.40" stroke="#000" stroke-width="1.5" />
<line x1="79.25" y1="1032.90" x2="274.30" y2="1032.90" stroke="#000" stroke-width="1.5" />
<line x1="74.20" y1="903.70" x2="80.00" y2="903.70" stroke="#000" stroke-width="1.4" />
<text transform="translate(73.00 907.32) scale(0.94 1)" x="0" y="0" font-size="10.2" font-weight="bold" text-anchor="end" fill="#000">100</text>
<line x1="74.20" y1="912.23" x2="80.00" y2="912.23" stroke="#000" stroke-width="1.4" />
<text transform="translate(73.00 915.85) scale(0.94 1)" x="0" y="0" font-size="10.2" font-weight="bold" text-anchor="end" fill="#000">80</text>
<line x1="74.20" y1="920.76" x2="80.00" y2="920.76" stroke="#000" stroke-width="1.4" />
<text transform="translate(73.00 924.38) scale(0.94 1)" x="0" y="0" font-size="10.2" font-weight="bold" text-anchor="end" fill="#000">60</text>
<line x1="74.20" y1="929.29" x2="80.00" y2="929.29" stroke="#000" stroke-width="1.4" />
<text transform="translate(73.00 932.91) scale(0.94 1)" x="0" y="0" font-size="10.2" font-weight="bold" text-anchor="end" fill="#000">40</text>
<text transform="translate(73.00 946.92) scale(0.94 1)" x="0" y="0" font-size="10.2" font-weight="bold" text-anchor="end" fill="#000">20</text>
<line x1="74.20" y1="965.70" x2="80.00" y2="965.70" stroke="#000" stroke-width="1.4" />
<text transform="translate(73.00 969.32) scale(0.94 1)" x="0" y="0" font-size="10.2" font-weight="bold" text-anchor="end" fill="#000">10</text>
<line x1="74.20" y1="988.10" x2="80.00" y2="988.10" stroke="#000" stroke-width="1.4" />
<text transform="translate(73.00 991.72) scale(0.94 1)" x="0" y="0" font-size="10.2" font-weight="bold" text-anchor="end" fill="#000">0</text>
<line x1="74.20" y1="1010.50" x2="80.00" y2="1010.50" stroke="#000" stroke-width="1.4" />
<text transform="translate(73.00 1014.12) scale(0.94 1)" x="0" y="0" font-size="10.2" font-weight="bold" text-anchor="end" fill="#000">-10</text>
<line x1="74.20" y1="1032.90" x2="80.00" y2="1032.90" stroke="#000" stroke-width="1.4" />
<text transform="translate(73.00 1036.52) scale(0.94 1)" x="0" y="0" font-size="10.2" font-weight="bold" text-anchor="end" fill="#000">-20</text>
<line x1="102.40" y1="1032.90" x2="102.40" y2="1037.90" stroke="#000" stroke-width="1.4" />
<text x="102.40" y="1048.50" font-size="9.4" font-weight="bold" text-anchor="middle" fill="#000" >40</text>
<line x1="151.90" y1="1032.90" x2="151.90" y2="1037.90" stroke="#000" stroke-width="1.4" />
<text x="151.90" y="1048.50" font-size="9.4" font-weight="bold" text-anchor="middle" fill="#000" >20</text>
<line x1="201.50" y1="1032.90" x2="201.50" y2="1037.90" stroke="#000" stroke-width="1.4" />
<text x="201.50" y="1048.50" font-size="9.4" font-weight="bold" text-anchor="middle" fill="#000" >2</text>
<line x1="250.80" y1="1032.90" x2="250.80" y2="1037.90" stroke="#000" stroke-width="1.4" />
<text x="250.80" y="1048.50" font-size="9.4" font-weight="bold" text-anchor="middle" fill="#000" >0.2</text>
<text x="137.30" y="862.70" font-size="11.6" font-weight="bold" text-anchor="start" fill="#000" >TKO pRBCs</text>
<text x="51.60" y="968.00" font-size="10.8" font-weight="bold" text-anchor="middle" fill="#000" transform="rotate(-90 51.60 968.00)" >Cytotoxicity (%)</text>
<text x="177.30" y="1068.00" font-size="10.6" font-weight="bold" text-anchor="middle" fill="#000" >IVIg concentration(mg/ml)</text>
<text x="115.60" y="968.20" font-size="11.3" font-weight="normal" text-anchor="middle" fill="#222" >(-)</text>
<text x="166.10" y="968.20" font-size="11.3" font-weight="normal" text-anchor="middle" fill="#222" >(-)</text>
<g clip-path="url(#clipL)">
<rect x="211.70" y="885.90" width="14.00" height="6.60" fill="#000"/>
<path transform="translate(211.70 885.90)" d="M2.3 4.5 C3 2.6 3.6 2 4.5 2 S6 4.0 7.1 4.0 S8.8 2 9.8 2 S11.4 2.8 12.1 4.5" fill="none" stroke="#fff" stroke-width="1.15"/>
<rect x="211.90" y="908.90" width="12.00" height="4.60" fill="#fff" stroke="#000" stroke-width="2.0"/>
<rect x="210.60" y="942.00" width="14.00" height="6.60" fill="#000"/>
<text x="233.00" y="891.70" font-size="9.9" font-weight="normal" text-anchor="start" fill="#000" textLength="81.60" lengthAdjust="spacingAndGlyphs" >(a) pRBCs + IVIg</text>
<text x="232.40" y="908.90" font-size="9.9" font-weight="normal" text-anchor="start" fill="#000" textLength="88.40" lengthAdjust="spacingAndGlyphs" >(b) pRBCs +IVIg +</text>
<text x="232.40" y="921.20" font-size="9.9" font-weight="normal" text-anchor="start" fill="#000" textLength="85.90" lengthAdjust="spacingAndGlyphs" >rabbit complement</text>
<text x="232.00" y="935.90" font-size="9.9" font-weight="normal" text-anchor="start" fill="#000" textLength="117.60" lengthAdjust="spacingAndGlyphs" >(c) pRBCs + IVIg without</text>
<text x="232.00" y="948.40" font-size="9.9" font-weight="normal" text-anchor="start" fill="#000" textLength="107.40" lengthAdjust="spacingAndGlyphs" >soluble factors + rabbit</text>
<text x="232.00" y="960.30" font-size="9.9" font-weight="normal" text-anchor="start" fill="#000" textLength="56.90" lengthAdjust="spacingAndGlyphs" >complement</text>
</g>
</svg></body></html>
